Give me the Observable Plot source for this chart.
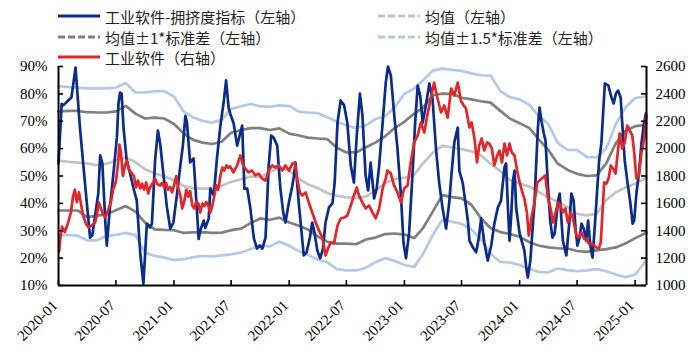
<!DOCTYPE html>
<html><head><meta charset="utf-8">
<script src="https://cdn.jsdelivr.net/npm/d3@7"></script>
<script src="https://cdn.jsdelivr.net/npm/@observablehq/plot@0.6"></script>
<style>
body{margin:0;background:#fff;}
#wrap{position:relative;width:698px;height:363px;overflow:hidden;}
#legend{position:absolute;left:0;top:0;width:698px;height:66px;font-family:"Noto Sans CJK SC","Noto Sans",sans-serif;font-size:15px;color:#222;}
.item{position:absolute;display:flex;align-items:center;height:20px;white-space:nowrap;}
.item svg{margin-right:5px;}
</style></head>
<body><div id="wrap"><div id="chart"></div><div id="legend"></div></div>
<script>
// ---- Crowding index (left axis, %) ----
const blueDates = ["2020-01-01","2020-01-11","2020-01-16","2020-02-01","2020-02-11","2020-02-24","2020-03-09","2020-03-30","2020-04-10","2020-04-17","2020-05-06","2020-05-12","2020-05-19","2020-05-28","2020-06-02","2020-06-12","2020-06-23","2020-07-04","2020-07-09","2020-07-14","2020-07-19","2020-07-25","2020-08-04","2020-08-15","2020-08-25","2020-09-05","2020-09-16","2020-09-26","2020-10-07","2020-10-17","2020-10-23","2020-11-02","2020-11-11","2020-11-18","2020-11-29","2020-12-09","2020-12-20","2020-12-30","2021-01-10","2021-01-21","2021-01-29","2021-02-06","2021-02-11","2021-02-21","2021-03-04","2021-03-15","2021-03-20","2021-03-25","2021-04-05","2021-04-10","2021-04-21","2021-04-26","2021-05-07","2021-05-17","2021-05-28","2021-06-08","2021-06-15","2021-06-23","2021-06-28","2021-07-09","2021-07-20","2021-07-28","2021-08-05","2021-08-12","2021-08-21","2021-08-31","2021-09-11","2021-09-21","2021-09-30","2021-10-08","2021-10-18","2021-10-28","2021-11-05","2021-11-13","2021-11-24","2021-12-04","2021-12-13","2021-12-20","2021-12-31","2022-01-11","2022-01-16","2022-01-21","2022-02-01","2022-02-08","2022-02-16","2022-02-25","2022-03-07","2022-03-15","2022-03-22","2022-03-31","2022-04-09","2022-04-18","2022-04-26","2022-05-07","2022-05-18","2022-05-25","2022-06-03","2022-06-13","2022-06-24","2022-07-04","2022-07-15","2022-07-25","2022-08-03","2022-08-13","2022-08-21","2022-08-31","2022-09-08","2022-09-16","2022-09-27","2022-10-05","2022-10-13","2022-10-24","2022-11-03","2022-11-10","2022-11-19","2022-11-29","2022-12-10","2022-12-21","2022-12-29","2023-01-06","2023-01-16","2023-01-27","2023-02-04","2023-02-12","2023-02-20","2023-02-28","2023-03-10","2023-03-21","2023-03-31","2023-04-11","2023-04-21","2023-05-02","2023-05-13","2023-05-23","2023-05-29","2023-06-08","2023-06-19","2023-06-24","2023-07-05","2023-07-21","2023-07-26","2023-08-06","2023-08-16","2023-08-25","2023-09-01","2023-09-06","2023-09-11","2023-09-22","2023-10-03","2023-10-13","2023-10-24","2023-11-03","2023-11-14","2023-11-19","2023-11-25","2023-11-30","2023-12-05","2023-12-11","2023-12-16","2023-12-21","2024-01-01","2024-01-09","2024-01-16","2024-01-22","2024-01-27","2024-02-04","2024-02-10","2024-02-17","2024-02-23","2024-02-28","2024-03-04","2024-03-10","2024-03-17","2024-03-23","2024-03-31","2024-04-07","2024-04-14","2024-04-21","2024-05-02","2024-05-07","2024-05-12","2024-05-17","2024-05-28","2024-06-07","2024-06-13","2024-06-20","2024-06-26","2024-07-02","2024-07-09","2024-07-15","2024-07-22","2024-07-30","2024-08-05","2024-08-12","2024-08-19","2024-08-26","2024-09-02","2024-09-09","2024-09-16","2024-09-22","2024-09-27","2024-10-08","2024-10-18","2024-10-25","2024-11-01","2024-11-08","2024-11-16","2024-11-24","2024-11-29","2024-12-08","2024-12-17","2024-12-24","2024-12-29","2025-01-05","2025-01-14","2025-01-21","2025-01-29","2025-02-04"];
const blueVals = [54.6,76.4,75.8,77.6,78.7,89.6,67.7,41.0,27.5,28.3,43.6,57.5,54.6,33.7,24.6,38.5,50.9,64.1,76.5,80.5,80.1,67.7,55.7,50.9,45.8,41.0,21.7,10.7,32.6,31.2,32.6,55.7,66.6,61.9,50.0,39.0,30.8,33.0,42.9,53.8,61.0,72.0,69.5,55.0,56.4,36.7,27.0,30.0,33.7,31.0,34.5,45.4,42.9,56.4,68.4,77.6,84.9,75.0,72.8,69.2,61.1,64.8,68.4,45.4,45.4,38.1,27.2,23.5,24.6,23.5,27.5,53.8,64.8,64.0,61.1,45.4,36.7,33.0,40.3,46.5,50.2,54.9,39.2,30.8,21.0,22.1,27.2,33.0,29.4,22.8,19.9,23.5,33.0,38.5,40.0,47.6,69.5,77.6,75.8,69.5,53.8,47.6,64.8,80.1,72.1,50.2,44.7,54.9,41.8,45.4,53.8,69.5,84.2,90.0,86.7,73.2,60.0,42.9,25.7,19.9,29.4,51.3,69.5,83.0,79.4,69.5,75.8,83.8,78.3,60.0,47.6,38.1,30.8,40.3,49.1,62.2,67.7,52.0,47.3,33.7,26.4,23.9,22.1,27.5,34.5,30.1,25.7,19.1,24.6,32.6,38.5,41.0,53.1,54.6,38.5,26.4,34.8,48.4,52.0,38.5,29.0,25.7,22.8,16.6,12.9,19.1,29.0,40.0,55.7,67.7,75.0,70.3,65.9,63.0,45.8,33.7,27.5,29.0,41.0,43.6,34.8,26.4,21.0,33.7,43.6,41.0,31.2,24.6,27.5,32.6,30.8,26.4,33.7,24.6,20.2,31.2,43.6,55.7,61.9,73.9,83.8,83.1,78.7,76.5,80.1,81.2,78.7,64.1,55.7,47.3,40.0,32.6,33.7,43.6,52.0,61.9,69.2,72.8];

// ---- Industrial software index (right axis) ----
const redDates = ["2020-01-03","2020-01-06","2020-01-12","2020-01-21","2020-01-31","2020-02-09","2020-02-16","2020-02-22","2020-02-28","2020-03-06","2020-03-12","2020-03-18","2020-03-28","2020-04-06","2020-04-16","2020-04-26","2020-05-02","2020-05-08","2020-05-15","2020-05-21","2020-05-28","2020-06-03","2020-06-09","2020-06-15","2020-06-22","2020-07-01","2020-07-08","2020-07-12","2020-07-17","2020-07-23","2020-07-30","2020-08-05","2020-08-11","2020-08-18","2020-08-27","2020-09-03","2020-09-09","2020-09-16","2020-09-22","2020-09-28","2020-10-05","2020-10-11","2020-10-17","2020-10-27","2020-11-02","2020-11-09","2020-11-18","2020-11-24","2020-12-01","2020-12-07","2020-12-13","2020-12-20","2020-12-26","2021-01-02","2021-01-08","2021-01-14","2021-01-21","2021-01-27","2021-02-02","2021-02-09","2021-02-15","2021-02-21","2021-02-28","2021-03-06","2021-03-12","2021-03-19","2021-03-25","2021-04-01","2021-04-07","2021-04-13","2021-04-20","2021-04-26","2021-05-02","2021-05-09","2021-05-15","2021-05-21","2021-05-28","2021-06-03","2021-06-09","2021-06-16","2021-06-22","2021-06-28","2021-07-08","2021-07-20","2021-07-30","2021-08-08","2021-08-15","2021-08-25","2021-09-05","2021-09-16","2021-09-26","2021-10-07","2021-10-18","2021-10-28","2021-11-08","2021-11-18","2021-11-29","2021-12-10","2021-12-20","2021-12-31","2022-01-11","2022-01-19","2022-01-26","2022-02-04","2022-02-11","2022-02-22","2022-03-04","2022-03-15","2022-03-26","2022-04-05","2022-04-16","2022-04-26","2022-05-04","2022-05-12","2022-05-23","2022-06-03","2022-06-13","2022-06-24","2022-07-04","2022-07-15","2022-07-25","2022-08-03","2022-08-10","2022-08-21","2022-08-31","2022-09-11","2022-09-22","2022-10-02","2022-10-13","2022-10-24","2022-11-03","2022-11-08","2022-11-19","2022-11-29","2022-12-10","2022-12-21","2022-12-31","2023-01-11","2023-01-21","2023-02-01","2023-02-12","2023-02-22","2023-03-05","2023-03-16","2023-03-26","2023-04-05","2023-04-16","2023-04-27","2023-05-07","2023-05-18","2023-05-29","2023-06-08","2023-06-19","2023-06-29","2023-07-08","2023-07-15","2023-07-26","2023-08-02","2023-08-11","2023-08-19","2023-08-26","2023-09-03","2023-09-11","2023-09-20","2023-09-27","2023-10-05","2023-10-13","2023-10-22","2023-10-29","2023-11-06","2023-11-14","2023-11-22","2023-11-30","2023-12-07","2023-12-16","2023-12-24","2024-01-01","2024-01-08","2024-01-16","2024-01-24","2024-01-30","2024-02-07","2024-02-17","2024-02-26","2024-03-04","2024-03-15","2024-03-22","2024-03-31","2024-04-08","2024-04-16","2024-04-24","2024-05-02","2024-05-10","2024-05-17","2024-05-25","2024-06-02","2024-06-11","2024-06-18","2024-06-29","2024-07-06","2024-07-15","2024-07-23","2024-07-30","2024-08-07","2024-08-15","2024-08-24","2024-08-31","2024-09-08","2024-09-14","2024-09-19","2024-09-25","2024-10-02","2024-10-09","2024-10-16","2024-10-23","2024-10-31","2024-11-06","2024-11-13","2024-11-21","2024-11-29","2024-12-07","2024-12-15","2024-12-23","2024-12-29","2025-01-05","2025-01-13","2025-01-21","2025-01-30","2025-02-06"];
const redVals = [1250,1330,1430,1390,1455,1530,1650,1700,1610,1680,1600,1520,1450,1424,1440,1460,1520,1606,1560,1520,1500,1530,1570,1606,1700,1760,1900,2030,1970,1800,1880,1913,1850,1826,1800,1716,1767,1709,1745,1700,1753,1672,1716,1753,1782,1740,1730,1750,1716,1750,1700,1720,1680,1740,1800,1716,1658,1563,1610,1700,1650,1690,1584,1563,1610,1600,1533,1599,1580,1610,1580,1533,1580,1658,1731,1700,1804,1862,1840,1877,1860,1870,1826,1877,1950,1877,1855,1826,1840,1804,1818,1782,1767,1840,1877,1862,1877,1840,1877,1840,1891,1899,1782,1680,1658,1680,1606,1533,1460,1402,1351,1219,1270,1314,1307,1438,1490,1497,1511,1584,1658,1716,1658,1606,1563,1584,1533,1490,1563,1709,1782,1840,1818,1731,1680,1606,1709,1731,1899,2045,2096,2191,2118,2264,2366,2483,2366,2264,2315,2227,2439,2388,2483,2350,2315,2293,2154,2191,2074,1899,2023,2074,1986,2045,2037,2001,1877,1950,1986,1899,2037,1950,2037,1972,1950,1840,1753,1694,1635,1533,1365,1490,1606,1753,1767,1789,1804,1635,1563,1460,1533,1606,1584,1533,1563,1460,1533,1490,1365,1351,1387,1343,1340,1307,1310,1292,1278,1270,1314,1511,1753,1745,1782,1877,1855,1818,1950,2110,2001,2045,2169,2133,2096,1972,1782,1804,1972,2074,2242];

// ---- Rolling mean and bands (left axis, %) ----
const bandDates = ["2020-01-01","2020-02-01","2020-03-01","2020-04-01","2020-05-01","2020-06-01","2020-07-01","2020-08-01","2020-09-01","2020-10-01","2020-11-01","2020-12-01","2021-01-01","2021-02-01","2021-03-01","2021-04-01","2021-05-01","2021-06-01","2021-07-01","2021-08-01","2021-09-01","2021-10-01","2021-11-01","2021-12-01","2022-01-01","2022-02-01","2022-03-01","2022-04-01","2022-05-01","2022-06-01","2022-07-01","2022-08-01","2022-09-01","2022-10-01","2022-11-01","2022-12-01","2023-01-01","2023-02-01","2023-03-01","2023-04-01","2023-05-01","2023-06-01","2023-07-01","2023-08-01","2023-09-01","2023-10-01","2023-11-01","2023-12-01","2024-01-01","2024-02-01","2024-03-01","2024-04-01","2024-05-01","2024-06-01","2024-07-01","2024-08-01","2024-09-01","2024-10-01","2024-11-01","2024-12-01","2025-01-01","2025-02-01","2025-02-06"];
const meanVals = [55.6,55.2,54.9,54.6,54.0,54.5,55.6,56.8,55.0,52.5,51.0,49.8,48.5,46.3,45.6,45.4,45.5,46.5,47.8,48.8,49.8,49.6,51.5,53.0,52.0,49.0,47.0,45.6,43.8,42.8,42.2,42.0,42.5,44.6,47.5,48.8,49.3,50.5,54.6,58.5,61.0,60.5,59.8,59.0,57.5,54.5,51.8,48.5,47.2,46.2,44.2,42.2,40.6,38.6,36.2,35.6,36.2,41.2,44.0,45.8,47.2,49.0,49.5];
const plus1Vals = [73.6,73.8,73.8,73.3,73.2,73.2,73.6,75.6,72.8,71.0,71.3,71.0,69.0,65.5,63.3,62.2,61.7,62.5,65.8,66.8,67.5,67.5,66.8,67.4,65.5,64.8,64.0,63.7,63.5,60.3,58.6,58.6,60.5,62.2,64.5,67.5,69.8,72.8,75.0,79.5,80.1,80.0,78.6,78.0,77.3,76.8,73.8,71.0,69.3,67.5,63.5,59.5,54.5,52.2,50.8,50.0,50.2,54.5,62.0,66.5,68.2,68.6,69.2];
const minus1Vals = [37.4,37.4,37.4,35.0,35.5,36.0,37.5,39.0,37.0,33.0,30.5,30.3,30.2,29.2,29.4,29.5,29.2,29.3,30.2,30.8,32.8,34.5,34.0,34.8,33.0,31.8,30.5,28.0,26.0,25.3,25.3,25.1,26.8,27.5,28.8,29.0,28.6,27.3,31.0,37.0,43.0,42.3,41.8,39.5,34.5,31.0,29.5,28.8,27.8,25.8,24.6,23.9,23.6,23.5,22.6,22.3,22.8,23.3,23.9,25.3,27.3,29.0,29.4];
const plus15Vals = [82.8,82.5,82.3,82.0,82.0,82.0,82.3,84.0,80.5,80.5,81.0,81.0,79.0,73.5,71.5,70.2,69.5,70.5,74.5,75.5,76.3,75.5,75.3,75.8,75.5,73.5,73.2,73.0,71.5,69.8,68.5,67.5,68.5,70.8,71.8,75.0,80.0,82.0,85.0,88.5,89.2,88.8,88.4,87.5,86.8,86.7,81.0,78.8,78.0,76.0,72.0,69.0,62.0,59.5,59.5,57.0,56.8,60.0,69.0,75.0,78.5,79.0,80.0];
const minus15Vals = [28.5,28.4,28.2,26.5,26.5,28.0,28.5,29.2,28.4,22.0,20.8,20.2,19.3,19.6,20.3,20.8,20.6,21.0,21.4,22.0,23.3,24.5,24.3,26.0,24.5,22.5,21.2,19.5,18.5,16.0,15.5,15.5,16.5,18.5,20.0,19.0,17.5,16.8,21.5,28.5,34.0,33.3,32.5,30.5,26.8,21.5,18.6,18.4,17.5,16.0,15.0,14.8,16.2,15.6,15.2,15.5,16.0,15.2,14.0,13.0,14.0,18.5,19.5];

// ---- Axes ----
const leftTicks = [10,20,30,40,50,60,70,80,90];
const rightTicks = [1000,1200,1400,1600,1800,2000,2200,2400,2600];
const xTickLabels = ["2020-01","2020-07","2021-01","2021-07","2022-01","2022-07","2023-01","2023-07","2024-01","2024-07","2025-01"];
const xDomain = ["2020-01-01","2025-02-06"];

// ---- Legend ----
const legendItems = [
  {label:"工业软件-拥挤度指标（左轴）", key:"blue", dash:null},
  {label:"均值（左轴）", key:"mean", dash:"7,3"},
  {label:"均值±1*标准差（左轴）", key:"sd1", dash:"7,3"},
  {label:"均值±1.5*标准差（左轴）", key:"sd15", dash:"7,3"},
  {label:"工业软件（右轴）", key:"red", dash:null}
];
const colors = {blue:"#0b2c88", red:"#e3262a", mean:"#c3c3c3", sd1:"#808080", sd15:"#b5c8e8"};

const parse = d3.utcParse("%Y-%m-%d");
const rToL = d3.scaleLinear([1000, 2600], [10, 90]);
const blue = blueDates.map((d, i) => ({date: parse(d), v: blueVals[i]}));
const red = redDates.map((d, i) => ({date: parse(d), v: rToL(redVals[i])}));
const band = bandDates.map((d, i) => ({date: parse(d), mean: meanVals[i], p1: plus1Vals[i], m1: minus1Vals[i], p15: plus15Vals[i], m15: minus15Vals[i]}));
const xTicks = xTickLabels.map(s => parse(s + "-01"));
const dom = xDomain.map(parse);

const W = 698, H = 363, mL = 58, mR = 52, mT = 66, mB = 78;
const innerW = W - mL - mR, innerH = H - mT - mB;
const lw = 2.7;

const chart = Plot.plot({
  width: W, height: H,
  marginLeft: mL, marginRight: mR, marginTop: mT, marginBottom: mB,
  style: {fontFamily: "'Liberation Serif','Times New Roman',serif", fontSize: "15px", color: "#000", background: "#fff", overflow: "visible"},
  x: {type: "utc", domain: dom, axis: null},
  y: {domain: [10, 90], axis: null},
  marks: [
    Plot.lineY(band, {x: "date", y: "p15", stroke: colors.sd15, strokeWidth: lw}),
    Plot.lineY(band, {x: "date", y: "m15", stroke: colors.sd15, strokeWidth: lw}),
    Plot.lineY(band, {x: "date", y: "p1", stroke: colors.sd1, strokeWidth: lw}),
    Plot.lineY(band, {x: "date", y: "m1", stroke: colors.sd1, strokeWidth: lw}),
    Plot.lineY(band, {x: "date", y: "mean", stroke: colors.mean, strokeWidth: lw}),
    Plot.lineY(blue, {x: "date", y: "v", stroke: colors.blue, strokeWidth: lw}),
    Plot.lineY(red, {x: "date", y: "v", stroke: colors.red, strokeWidth: lw}),
    Plot.ruleY([10], {stroke: "#000", strokeWidth: 2}),
    Plot.ruleX(dom, {stroke: "#000", strokeWidth: 2}),
    Plot.tickX(xTicks, {x: d => d, stroke: "#000", strokeWidth: 1.6, insetTop: innerH - 5}),
    Plot.tickY(leftTicks, {y: d => d, stroke: "#000", strokeWidth: 1.6, insetRight: innerW - 5}),
    Plot.tickY(leftTicks, {y: d => d, stroke: "#000", strokeWidth: 1.6, insetLeft: innerW - 5}),
    Plot.axisY({anchor: "left", ticks: leftTicks, tickSize: 0, tickPadding: 11, tickFormat: d => d + "%", label: null}),
    Plot.axisY({anchor: "right", ticks: rightTicks.map(r => rToL(r)), tickSize: 0, tickPadding: 9, tickFormat: d => String(Math.round(rToL.invert(d))), label: null}),
    Plot.text(xTicks, {x: d => d, frameAnchor: "bottom", dy: 21, rotate: -45, textAnchor: "end", text: (d, i) => xTickLabels[i], fill: "#000"})
  ]
});
document.getElementById("chart").appendChild(chart);

// legend overlay
const pos = [[58, 6], [378, 6], [58, 27], [378, 27], [58, 47]];
const legend = document.getElementById("legend");
legendItems.forEach((it, i) => {
  const div = document.createElement("div");
  div.className = "item";
  div.style.left = pos[i][0] + "px";
  div.style.top = pos[i][1] + "px";
  const dash = it.dash ? ` stroke-dasharray="${it.dash}"` : "";
  div.innerHTML = `<svg width="42" height="6"><line x1="0" y1="3" x2="42" y2="3" stroke="${colors[it.key]}" stroke-width="3"${dash}/></svg><span>${it.label}</span>`;
  legend.appendChild(div);
});
</script>
</body></html>
